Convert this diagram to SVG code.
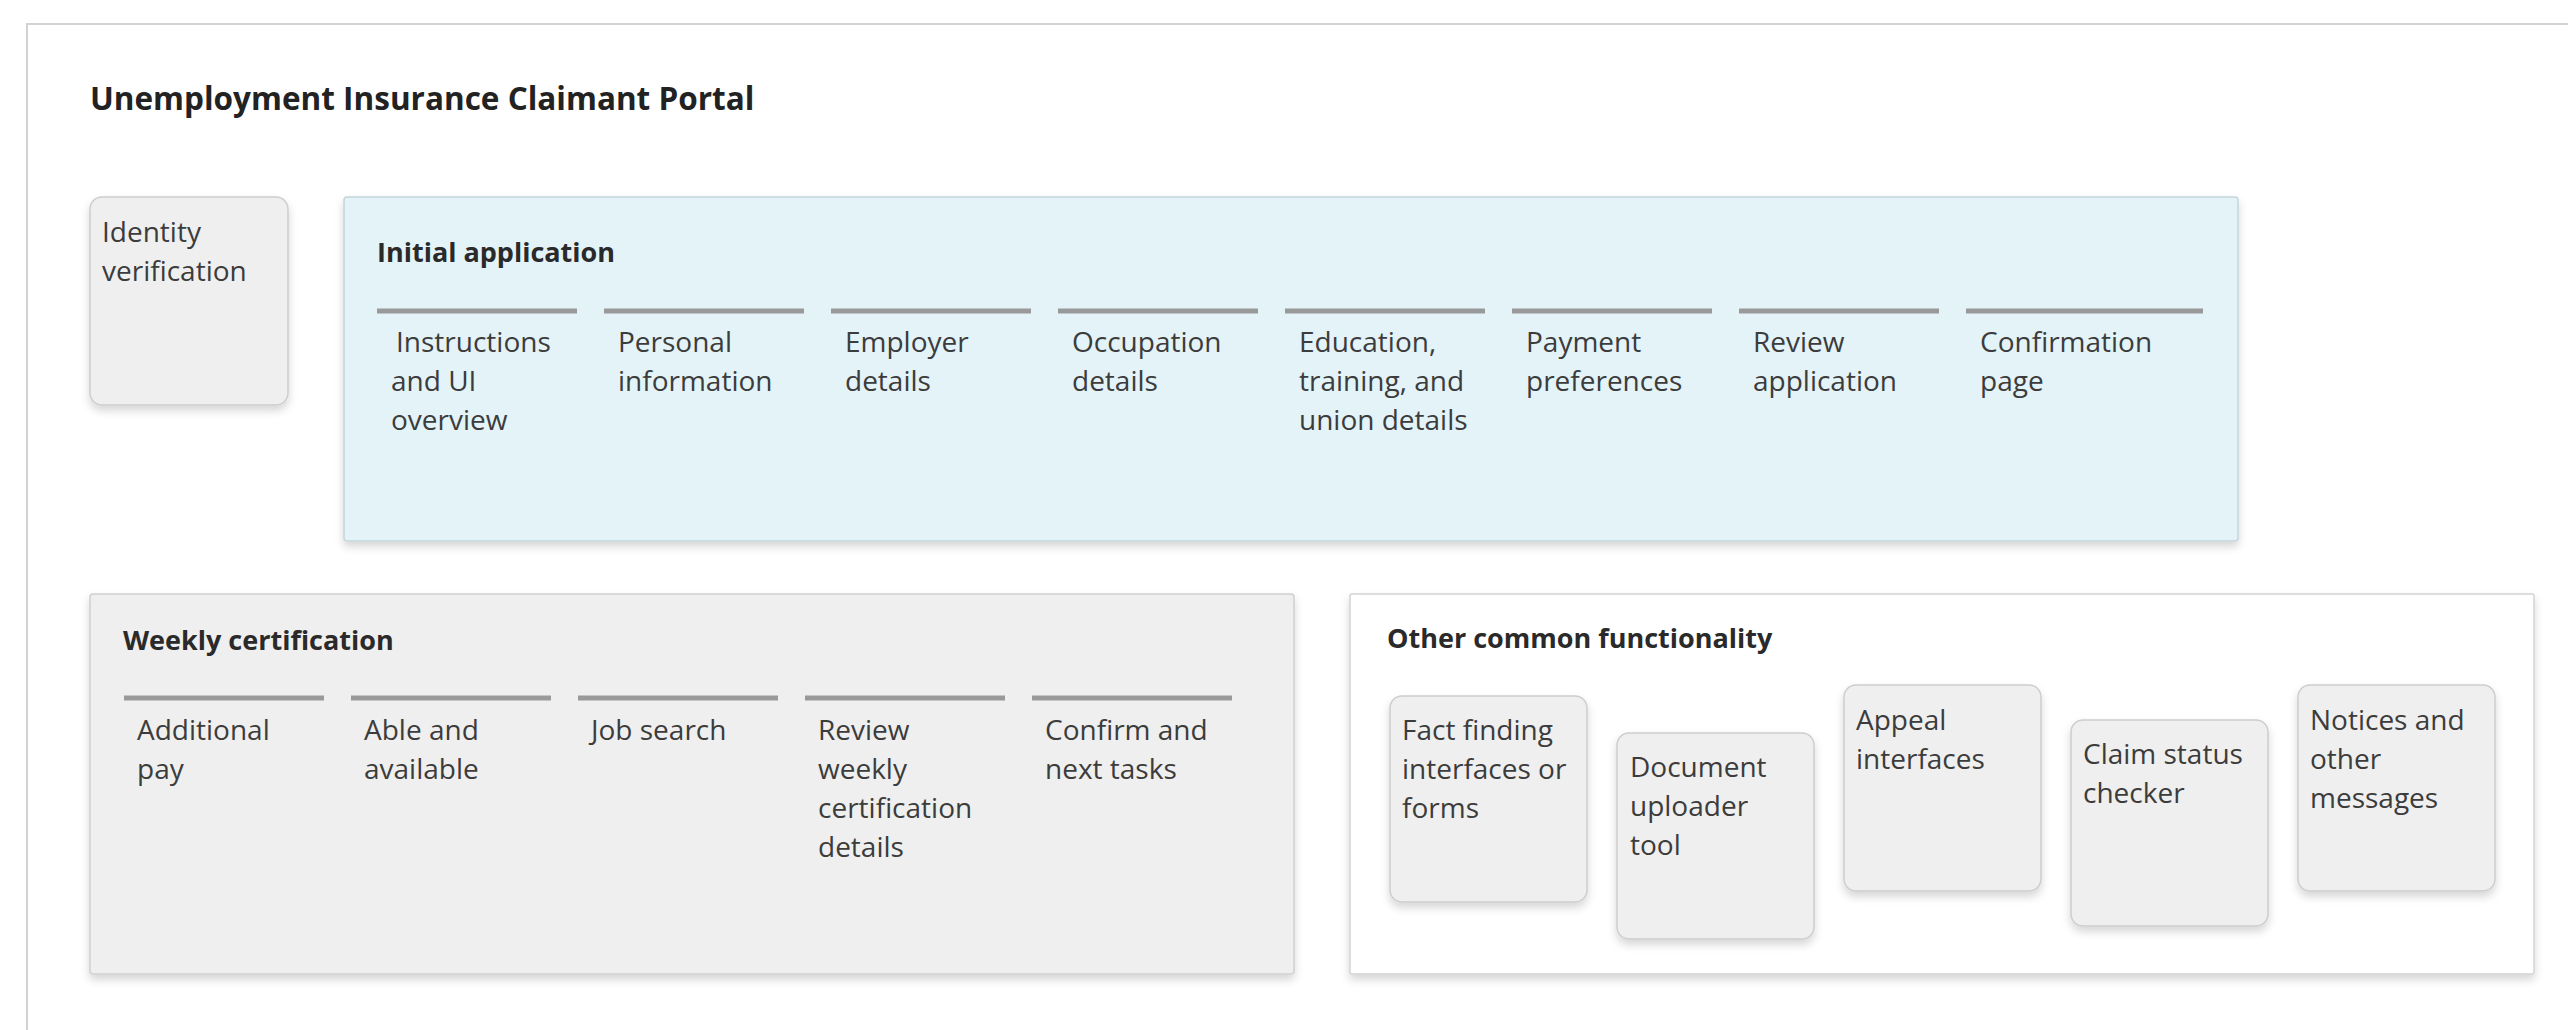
<svg xmlns="http://www.w3.org/2000/svg" width="2568" height="1030" viewBox="0 0 2568 1030">
  <defs>
    <filter id="shadow" x="-10%" y="-10%" width="120%" height="130%">
      <feDropShadow dx="0" dy="5" stdDeviation="4" flood-color="#000" flood-opacity="0.16"/>
    </filter>
    <style>
      .frame { fill: #ffffff; stroke: #d2d2d2; stroke-width: 2; }
      .card { fill: #efefef; stroke: #cdcdcd; stroke-width: 1.5; filter: url(#shadow); }
      .panel-grey { fill: #efefef; stroke: #cfcfcf; stroke-width: 1.5; filter: url(#shadow); }
      .panel-blue { fill: #e3f3f8; stroke: #c4d6da; stroke-width: 1.5; filter: url(#shadow); }
      .panel-white { fill: #ffffff; stroke: #d2d2d2; stroke-width: 1.5; filter: url(#shadow); }
      .step { stroke: #999999; stroke-width: 5; }
      .title { font-family: "Open Sans", "Noto Sans", sans-serif; font-weight: bold; font-size: 31.5px; fill: #222222; }
      .head { font-family: "Open Sans", "Noto Sans", sans-serif; font-weight: bold; font-size: 27px; fill: #2a2a2a; }
      .label { font-family: "Open Sans", "Noto Sans", sans-serif; font-size: 28px; fill: #3c3c3c; }
    </style>
  </defs>

  <rect width="2568" height="1030" fill="#ffffff"/>

  <!-- outer portal frame, running past the right and bottom edges -->
  <rect class="frame" x="27" y="24" width="2600" height="1100"/>
  <text class="title" x="90" y="110">Unemployment Insurance Claimant Portal</text>

  <!-- identity verification -->
  <g id="identity-verification">
    <rect class="card" x="90" y="197" width="198" height="208" rx="12"/>
    <text class="label" x="102" y="242">Identity</text>
    <text class="label" x="102" y="281">verification</text>
  </g>

  <!-- initial application -->
  <g id="initial-application">
    <rect class="panel-blue" x="344" y="197" width="1894" height="344" rx="3"/>
    <text class="head" x="377" y="262">Initial application</text>
    <g id="ia-instructions">
      <line class="step" x1="377" y1="311" x2="577" y2="311"/>
      <text class="label" x="396" y="352">Instructions</text>
      <text class="label" x="391" y="391">and UI</text>
      <text class="label" x="391" y="430">overview</text>
    </g>
    <g id="ia-personal">
      <line class="step" x1="604" y1="311" x2="804" y2="311"/>
      <text class="label" x="618" y="352">Personal</text>
      <text class="label" x="618" y="391">information</text>
    </g>
    <g id="ia-employer">
      <line class="step" x1="831" y1="311" x2="1031" y2="311"/>
      <text class="label" x="845" y="352">Employer</text>
      <text class="label" x="845" y="391">details</text>
    </g>
    <g id="ia-occupation">
      <line class="step" x1="1058" y1="311" x2="1258" y2="311"/>
      <text class="label" x="1072" y="352">Occupation</text>
      <text class="label" x="1072" y="391">details</text>
    </g>
    <g id="ia-education">
      <line class="step" x1="1285" y1="311" x2="1485" y2="311"/>
      <text class="label" x="1299" y="352">Education,</text>
      <text class="label" x="1299" y="391">training, and</text>
      <text class="label" x="1299" y="430">union details</text>
    </g>
    <g id="ia-payment">
      <line class="step" x1="1512" y1="311" x2="1712" y2="311"/>
      <text class="label" x="1526" y="352">Payment</text>
      <text class="label" x="1526" y="391">preferences</text>
    </g>
    <g id="ia-review">
      <line class="step" x1="1739" y1="311" x2="1939" y2="311"/>
      <text class="label" x="1753" y="352">Review</text>
      <text class="label" x="1753" y="391">application</text>
    </g>
    <g id="ia-confirmation">
      <line class="step" x1="1966" y1="311" x2="2203" y2="311"/>
      <text class="label" x="1980" y="352">Confirmation</text>
      <text class="label" x="1980" y="391">page</text>
    </g>
  </g>

  <!-- weekly certification -->
  <g id="weekly-certification">
    <rect class="panel-grey" x="90" y="594" width="1204" height="380" rx="3"/>
    <text class="head" x="123" y="650">Weekly certification</text>
    <g id="wc-additional-pay">
      <line class="step" x1="124" y1="698" x2="324" y2="698"/>
      <text class="label" x="137" y="740">Additional</text>
      <text class="label" x="137" y="779">pay</text>
    </g>
    <g id="wc-able-available">
      <line class="step" x1="351" y1="698" x2="551" y2="698"/>
      <text class="label" x="364" y="740">Able and</text>
      <text class="label" x="364" y="779">available</text>
    </g>
    <g id="wc-job-search">
      <line class="step" x1="578" y1="698" x2="778" y2="698"/>
      <text class="label" x="591" y="740">Job search</text>
    </g>
    <g id="wc-review">
      <line class="step" x1="805" y1="698" x2="1005" y2="698"/>
      <text class="label" x="818" y="740">Review</text>
      <text class="label" x="818" y="779">weekly</text>
      <text class="label" x="818" y="818">certification</text>
      <text class="label" x="818" y="857">details</text>
    </g>
    <g id="wc-confirm">
      <line class="step" x1="1032" y1="698" x2="1232" y2="698"/>
      <text class="label" x="1045" y="740">Confirm and</text>
      <text class="label" x="1045" y="779">next tasks</text>
    </g>
  </g>

  <!-- other common functionality -->
  <g id="other-common-functionality">
    <rect class="panel-white" x="1350" y="594" width="1184" height="380" rx="2"/>
    <text class="head" x="1387" y="648">Other common functionality</text>
  </g>

  <g id="fact-finding">
    <rect class="card" x="1390" y="696" width="197" height="206" rx="12"/>
    <text class="label" x="1402" y="740">Fact finding</text>
    <text class="label" x="1402" y="779">interfaces or</text>
    <text class="label" x="1402" y="818">forms</text>
  </g>
  <g id="document-uploader">
    <rect class="card" x="1617" y="733" width="197" height="206" rx="12"/>
    <text class="label" x="1630" y="777">Document</text>
    <text class="label" x="1630" y="816">uploader</text>
    <text class="label" x="1630" y="855">tool</text>
  </g>
  <g id="appeal-interfaces">
    <rect class="card" x="1844" y="685" width="197" height="206" rx="12"/>
    <text class="label" x="1856" y="730">Appeal</text>
    <text class="label" x="1856" y="769">interfaces</text>
  </g>
  <g id="claim-status-checker">
    <rect class="card" x="2071" y="720" width="197" height="206" rx="12"/>
    <text class="label" x="2083" y="764">Claim status</text>
    <text class="label" x="2083" y="803">checker</text>
  </g>
  <g id="notices-messages">
    <rect class="card" x="2298" y="685" width="197" height="206" rx="12"/>
    <text class="label" x="2310" y="730">Notices and</text>
    <text class="label" x="2310" y="769">other</text>
    <text class="label" x="2310" y="808">messages</text>
  </g>
</svg>
